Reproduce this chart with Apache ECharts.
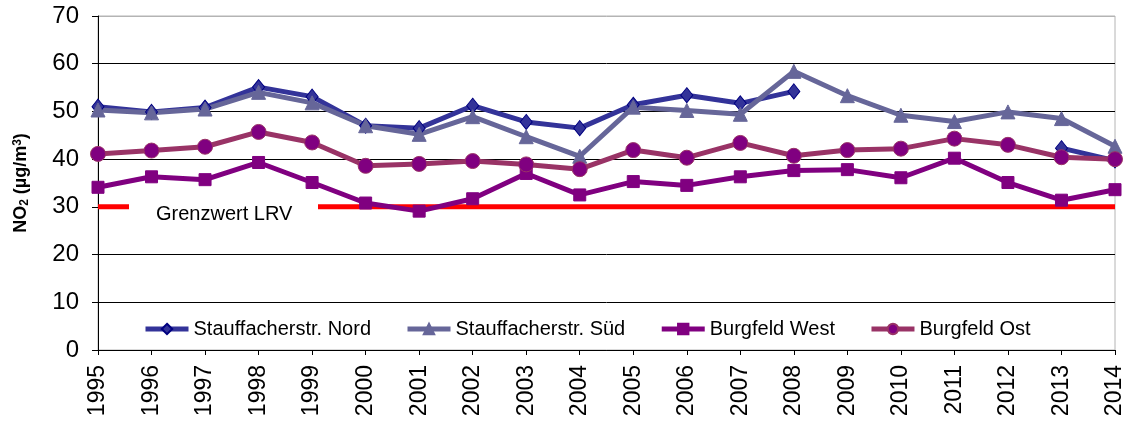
<!DOCTYPE html>
<html>
<head>
<meta charset="utf-8">
<script src="https://cdn.jsdelivr.net/npm/echarts@6/dist/echarts.min.js"></script>
<style>
  html, body { margin: 0; padding: 0; background: #fff; }
  #chart { width: 1130px; height: 423px; }
</style>
</head>
<body>
<div id="chart"></div>
<script>
// Jahre (Kategorien)
const years = ['1995', '1996', '1997', '1998', '1999', '2000', '2001', '2002', '2003', '2004',
  '2005', '2006', '2007', '2008', '2009', '2010', '2011', '2012', '2013', '2014']

// NO2 Jahresmittel in µg/m3
const nord = [51.0, 49.9, 50.8, 55.1, 53.1, 47.0, 46.5, 51.2, 47.8, 46.5,
  51.4, 53.4, 51.7, 54.2, null, null, null, null, 42.3, 39.7]
const sued = [50.3, 49.7, 50.5, 54.0, 51.8, 47.0, 45.2, 48.9, 44.7, 40.6,
  50.9, 50.2, 49.4, 58.4, 53.3, 49.2, 47.9, 49.9, 48.5, 42.7]
const west = [34.1, 36.3, 35.7, 39.3, 35.1, 30.8, 29.1, 31.7, 37.0, 32.5,
  35.3, 34.5, 36.3, 37.6, 37.8, 36.1, 40.2, 35.1, 31.4, 33.6]
const ost = [41.1, 41.8, 42.6, 45.7, 43.5, 38.6, 39.0, 39.6, 38.9, 37.9,
  41.9, 40.3, 43.4, 40.7, 41.9, 42.2, 44.3, 43.0, 40.4, 40.0]

// Grenzwert LRV
const limitValue = 30
const limit = years.map(() => limitValue)

const yTicks = { min: 0, max: 70, interval: 10 }

const fontFamily = '"Liberation Sans", Arial, sans-serif'

const chart = echarts.init(document.getElementById('chart'), null, { renderer: 'canvas' })

function lineSeries (name, data, lineColor, symbol, symbolSize, fill, border) {
  return {
    name: name,
    type: 'line',
    data: data,
    connectNulls: false,
    symbol: symbol,
    symbolSize: symbolSize,
    showAllSymbol: true,
    lineStyle: { color: lineColor, width: 5 },
    itemStyle: { color: fill, borderColor: border, borderWidth: 1 }
  }
}

const option = {
  animation: false,
  textStyle: { fontFamily: fontFamily },
  grid: {
    left: 98,
    right: 15,
    top: 16,
    bottom: 73,
    show: true,
    borderColor: '#b4b4b4',
    borderWidth: 1
  },
  legend: {
    left: 138,
    top: 314,
    itemWidth: 43,
    itemHeight: 13,
    itemGap: 34,
    lineStyle: { width: 5 },
    textStyle: { fontSize: 20, color: '#000', fontFamily: fontFamily },
    data: ['Stauffacherstr. Nord', 'Stauffacherstr. Süd', 'Burgfeld West', 'Burgfeld Ost']
  },
  xAxis: {
    type: 'category',
    data: years,
    boundaryGap: false,
    axisLine: { lineStyle: { color: '#000', width: 1 } },
    axisTick: { show: true, length: 5, alignWithLabel: true, lineStyle: { color: '#000' } },
    axisLabel: { rotate: 90, fontSize: 23, color: '#000', margin: 15, fontFamily: fontFamily },
    splitLine: { show: false }
  },
  yAxis: {
    type: 'value',
    min: yTicks.min,
    max: yTicks.max,
    interval: yTicks.interval,
    name: '{b|NO}{sub|2}{b| (µg/m}{sup|3}{b|)}',
    nameLocation: 'middle',
    nameGap: 67,
    nameTextStyle: {
      rich: {
        b: { fontSize: 18, fontWeight: 'bold', color: '#000', fontFamily: fontFamily },
        sub: { fontSize: 12, fontWeight: 'bold', color: '#000', verticalAlign: 'bottom', padding: [7, 0, 0, 0], fontFamily: fontFamily },
        sup: { fontSize: 12, fontWeight: 'bold', color: '#000', verticalAlign: 'top', padding: [0, 0, 6, 0], fontFamily: fontFamily }
      }
    },
    axisLine: { show: true, lineStyle: { color: '#000', width: 1 } },
    axisTick: { show: true, length: 6, lineStyle: { color: '#000' } },
    axisLabel: { fontSize: 24, color: '#000', margin: 19, fontFamily: fontFamily },
    splitLine: {
      show: true,
      lineStyle: {
        color: ['#000', '#000', '#000', '#000', '#000', '#000', '#000', '#b4b4b4'],
        width: 1
      }
    }
  },
  series: [
    {
      name: 'Grenzwert LRV',
      type: 'line',
      data: limit,
      symbol: 'none',
      z: 1,
      lineStyle: { color: '#ff0000', width: 5 },
      itemStyle: { color: '#ff0000' },
      silent: true
    },
    lineSeries('Stauffacherstr. Nord', nord, '#333399', 'diamond', [12, 15], '#333399', '#000080'),
    lineSeries('Stauffacherstr. Süd', sued, '#666699', 'triangle', 14, '#666699', '#666699'),
    lineSeries('Burgfeld West', west, '#800080', 'rect', 12, '#800080', '#800080'),
    lineSeries('Burgfeld Ost', ost, '#993366', 'circle', 15, '#800080', '#993366')
  ]
}

chart.setOption(option)

// Beschriftung des Grenzwerts mit weissem Hintergrund über der roten Linie
const limitY = chart.convertToPixel({ yAxisIndex: 0 }, limitValue)
chart.setOption({
  graphic: [
    {
      type: 'rect',
      z: 100,
      shape: { x: 129, y: limitY - 4, width: 189, height: 8 },
      style: { fill: '#fff' }
    },
    {
      type: 'text',
      z: 101,
      x: 156,
      y: limitY - 2,
      style: { text: 'Grenzwert LRV', fontSize: 20, fill: '#000', fontFamily: fontFamily }
    }
  ]
})
</script>
</body>
</html>
